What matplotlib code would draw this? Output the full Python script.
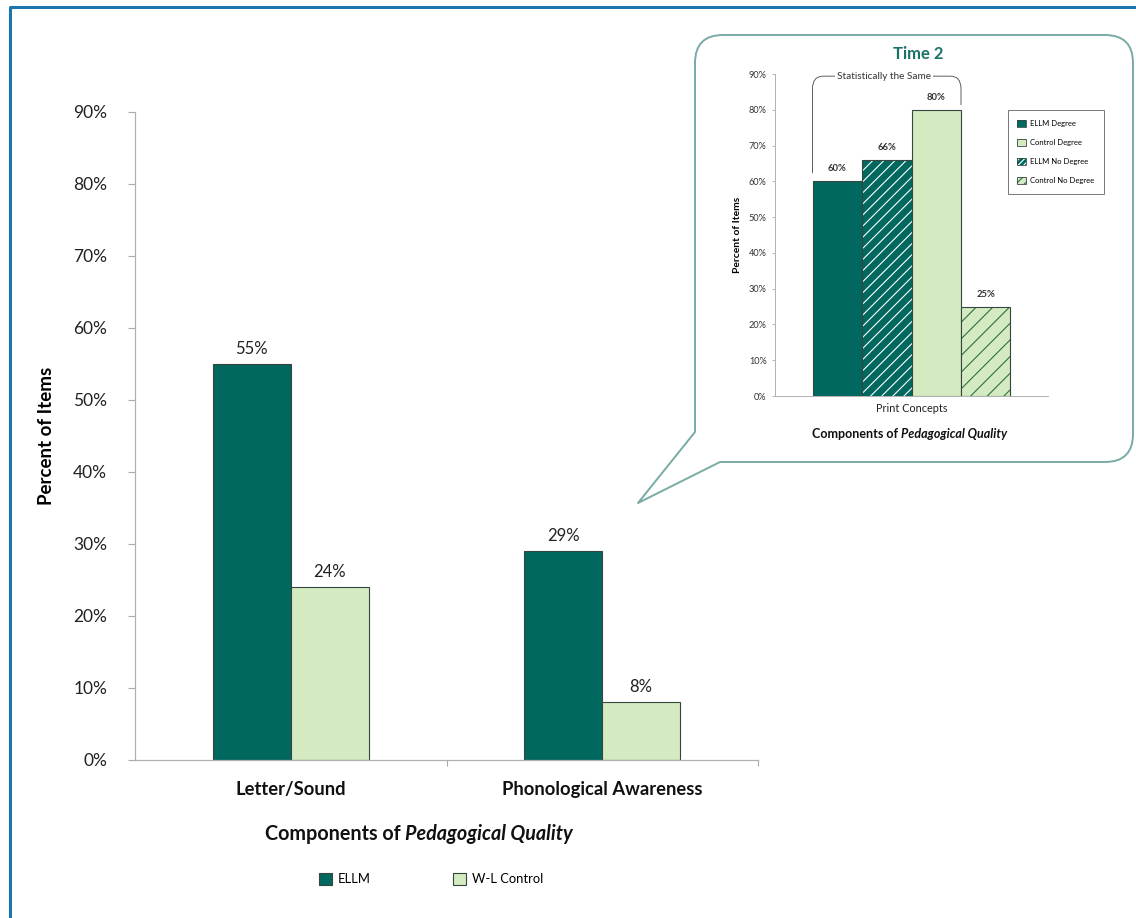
import numpy as np
import matplotlib
matplotlib.use('Agg')
import matplotlib.pyplot as plt
from matplotlib.path import Path
from matplotlib.patches import PathPatch, Patch
from matplotlib.lines import Line2D
from matplotlib.offsetbox import TextArea, HPacker, AnchoredOffsetbox

plt.rcParams['font.family'] = ['Lato', 'DejaVu Sans']
plt.rcParams['hatch.linewidth'] = 0.8

# main chart data (percent of items)
categories = ['Letter/Sound', 'Phonological Awareness']
ellm = [55, 29]
control = [24, 8]

# inset: Time 2, Print Concepts
inset_category = 'Print Concepts'
inset_labels = ['ELLM Degree', 'ELLM No Degree', 'Control Degree', 'Control No Degree']
inset_values = [60, 66, 80, 25]
yticks = [0, 10, 20, 30, 40, 50, 60, 70, 80, 90]

DARK = '#00685f'
LIGHT = '#d4ebc2'
EDGE = '#36463e'
W, H = 1136, 918


def px(x, y):
    return x / W, 1 - y / H


fig = plt.figure(figsize=(W / 100, H / 100), dpi=100)

# page frame (top and left edges)
fig.add_artist(Line2D([10 / W, 10 / W, 1], [0, 1 - 7 / H, 1 - 7 / H],
                      transform=fig.transFigure, color='#1c76ae', lw=2.2))

# ---- main chart ----
l, b = px(135, 760)
r, t = px(758, 112)
ax = fig.add_axes([l, b, r - l, t - b])
x = np.arange(len(categories))
bw = 0.25
b1 = ax.bar(x - bw / 2, ellm, bw, color=DARK, edgecolor=EDGE, lw=0.8)
b2 = ax.bar(x + bw / 2, control, bw, color=LIGHT, edgecolor=EDGE, lw=0.8)
for bars, vals in [(b1, ellm), (b2, control)]:
    for rect, v in zip(bars, vals):
        ax.text(rect.get_x() + rect.get_width() / 2, v + 1, f'{v}%',
                ha='center', va='bottom', fontsize=12, color='#222222')

ax.set_xlim(-0.5, 1.5)
ax.set_ylim(0, 90)
ax.set_yticks(yticks)
ax.set_yticklabels([f'{v}%' for v in yticks], fontsize=12.5, color='#222222')
ax.tick_params(axis='y', length=5, width=0.8, color='#aaaaaa', pad=15)
ax.set_xticks(x)
ax.set_xticklabels(categories, fontsize=13.2, fontweight='bold', color='#111111')
ax.set_xticks([0.5, 1.5], minor=True)
ax.tick_params(axis='x', which='major', length=0, pad=15)
ax.tick_params(axis='x', which='minor', length=4, width=0.8, color='#aaaaaa')
for s in ['top', 'right']:
    ax.spines[s].set_visible(False)
for s in ['left', 'bottom']:
    ax.spines[s].set_color('#b0b0b0')
    ax.spines[s].set_linewidth(0.9)
ax.set_ylabel('Percent of Items', fontsize=13.5, fontweight='bold', labelpad=13)


def mixed_title(xy, size, color='#111111', zorder=5):
    parts = HPacker(children=[
        TextArea('Components of ', textprops=dict(fontsize=size, fontweight='bold', color=color)),
        TextArea('Pedagogical Quality', textprops=dict(fontsize=size, fontweight='bold',
                                                         style='italic', color=color)),
    ], align='baseline', pad=0, sep=0)
    box = AnchoredOffsetbox(loc='center', child=parts, frameon=False, pad=0, borderpad=0,
                            bbox_to_anchor=px(*xy), bbox_transform=fig.transFigure)
    box.set_zorder(zorder)
    fig.add_artist(box)


mixed_title((419, 834), 14.2)

# bottom legend
fig.legend(handles=[Patch(facecolor=DARK, edgecolor=EDGE, lw=0.8, label='ELLM'),
                    Patch(facecolor=LIGHT, edgecolor=EDGE, lw=0.8, label='W-L Control')],
           loc='center', bbox_to_anchor=px(431, 879), ncol=2, frameon=False,
           fontsize=9.4, handlelength=1.0, handleheight=1.0, handletextpad=0.45,
           columnspacing=6.3)

# ---- speech bubble around the inset ----
rr = 28
verts = [
    (695, 35 + rr), (695, 432), (638, 503), (720, 462), (1133 - rr, 462),
    (1133, 462), (1133, 462 - rr), (1133, 35 + rr), (1133, 35), (1133 - rr, 35),
    (695 + rr, 35), (695, 35), (695, 35 + rr),
]
codes = [Path.MOVETO, Path.LINETO, Path.LINETO, Path.LINETO, Path.LINETO,
         Path.CURVE3, Path.CURVE3, Path.LINETO, Path.CURVE3, Path.CURVE3,
         Path.LINETO, Path.CURVE3, Path.CURVE3]
bubble = Path([px(*v) for v in verts], codes)
fig.add_artist(PathPatch(bubble, transform=fig.transFigure, facecolor='white',
                         edgecolor='#78aaa6', lw=1.4, joinstyle='round', zorder=1))

# ---- inset chart ----
l2, b2_ = px(775, 396)
r2, t2 = px(1048, 74)
ax2 = fig.add_axes([l2, b2_, r2 - l2, t2 - b2_])
ax2.set_zorder(3)
ax2.patch.set_alpha(0)
iw = 0.1813
offsets = (np.arange(len(inset_values)) - 1.5) * iw
faces = [DARK, DARK, LIGHT, LIGHT]
hatches = [None, '///', None, '//']
hatch_cols = [EDGE, 'white', EDGE, '#2f6e45']
handles = {}
for off, v, fc, h, hc, lab in zip(offsets, inset_values, faces, hatches, hatch_cols, inset_labels):
    ax2.bar(off, v, iw, color=fc, edgecolor=hc, lw=0, hatch=h)
    ax2.bar(off, v, iw, fill=False, edgecolor=EDGE, lw=0.8)
    ax2.text(off, v + 2.2, f'{v}%', ha='center', va='bottom', fontsize=6.8,
             fontweight='bold', color='#333333')
    handles[lab] = (Patch(facecolor=fc, edgecolor=hc, lw=0, hatch=h and h * 2),
                    Patch(fill=False, edgecolor=EDGE, lw=0.6))

ax2.set_xlim(-0.5, 0.5)
ax2.set_ylim(0, 90)
ax2.set_yticks(yticks)
ax2.set_yticklabels([f'{v}%' for v in yticks], fontsize=6.6, color='#333333')
ax2.tick_params(axis='y', length=2.5, width=0.6, color='#aaaaaa', pad=3.5)
ax2.set_xticks([0])
ax2.set_xticklabels([inset_category], fontsize=7.8, color='#222222')
ax2.tick_params(axis='x', length=0, pad=5)
for s in ['top', 'right']:
    ax2.spines[s].set_visible(False)
for s in ['left', 'bottom']:
    ax2.spines[s].set_color('#b0b0b0')
    ax2.spines[s].set_linewidth(0.7)
ax2.set_ylabel('Percent of Items', fontsize=7.4, fontweight='bold', labelpad=5)
fig.text(*px(918, 54), 'Time 2', ha='center', va='center', fontsize=12,
         fontweight='bold', color='#19726a', zorder=5)
mixed_title((910, 434), 9)

# bracket over the groups that do not differ
xl, xr = offsets[0] - iw / 2, offsets[2] + iw / 2
ytop = 89.4
bracket = Path([(xl, 62.3), (xl, ytop - 3.5), (xl, ytop), (xl + 0.04, ytop),
                (xr - 0.04, ytop), (xr, ytop), (xr, ytop - 3.5), (xr, 81.3)],
               [Path.MOVETO, Path.LINETO, Path.CURVE3, Path.CURVE3,
                Path.LINETO, Path.CURVE3, Path.CURVE3, Path.LINETO])
ax2.add_patch(PathPatch(bracket, fill=False, edgecolor='#444444', lw=0.6, clip_on=False))
ax2.text((xl + xr) / 2 - 0.01, ytop, 'Statistically the Same', ha='center', va='center',
         fontsize=7.2, color='#333333',
         bbox=dict(facecolor='white', edgecolor='none', pad=1.5))

order = ['ELLM Degree', 'Control Degree', 'ELLM No Degree', 'Control No Degree']
lg = ax2.legend([handles[k] for k in order], order, loc='center',
                bbox_to_anchor=px(1056, 152), bbox_transform=fig.transFigure,
                fontsize=5.5, frameon=True, fancybox=False, edgecolor='#555555',
                handlelength=1.1, handleheight=1.1, handletextpad=0.6,
                labelspacing=1.55, borderpad=1.2)
lg.get_frame().set_linewidth(0.7)

fig.savefig('out.png', dpi=100)
